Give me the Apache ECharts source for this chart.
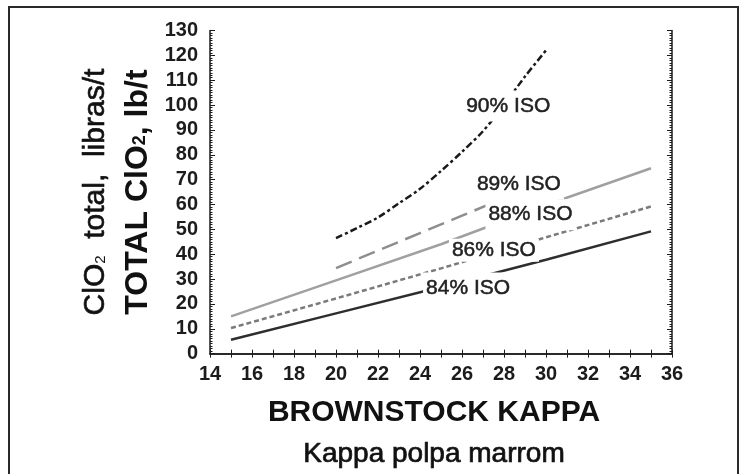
<!DOCTYPE html>
<html>
<head>
<meta charset="utf-8">
<script src="https://cdn.jsdelivr.net/npm/echarts@6/dist/echarts.min.js"></script>
<style>
  html, body { margin: 0; padding: 0; background: #fff; }
  #chart { width: 748px; height: 474px; }
</style>
</head>
<body>
<div id="chart"></div>
<script>
// Brownstock kappa (x) against total ClO2 demand, lb/t (y), one curve per target brightness
const kappaFull = [15, 20, 25, 30, 35];
const clo2_84 = [5.6, 16.2, 26.8, 37.8, 49.2];
const clo2_86 = [10.3, 22.2, 34.3, 46.8, 59.2];
const clo2_88 = [15.0, 29.5, 44.0, 59.8, 74.6];

const kappa89 = [20, 22, 24, 26, 27.7];
const clo2_89 = [34.4, 41.5, 48.5, 55.5, 61.5];

const kappa90 = [20, 21, 22, 23, 24, 25, 26, 27, 28, 29, 30];
const clo2_90 = [46.5, 50.5, 54.8, 60.5, 66.3, 73.5, 81.2, 89.5, 100, 111.5, 122];

const curveNames = ['84% ISO', '86% ISO', '88% ISO', '89% ISO', '90% ISO'];
// where each curve's name is written (kappa, lb/t)
const tagKappa = [26.29, 27.52, 29.26, 28.71, 28.2];
const tagClo2 = [26.4, 41.6, 55.9, 68.2, 99.6];

const xTicks = { min: 14, max: 36, step: 2 };
const yTicks = { min: 0, max: 130, step: 10 };

const pairs = (xs, ys) => xs.map((x, i) => [x, ys[i]]);

const FONT = '"Liberation Sans", Arial, sans-serif';
const INK = '#1c1c1c';

function lineSeries(name, data, color, type, width, smooth) {
  return {
    name, type: 'line', data, smooth: smooth || false,
    showSymbol: false, symbol: 'none', silent: true, z: 2,
    lineStyle: { color, width, type, cap: 'butt' }
  };
}

const axisCommon = {
  type: 'value',
  axisLine: { show: true, lineStyle: { color: INK, width: 1.5 } },
  axisTick: { show: true, inside: true, length: 4, lineStyle: { color: INK, width: 1 } },
  minorTick: { show: true, length: 3, lineStyle: { color: INK, width: 1 } },
  splitLine: { show: false },
  minorSplitLine: { show: false }
};

const tickFont = { fontSize: 20, fontWeight: 'bold', color: INK, fontFamily: FONT };

const chart = echarts.init(document.getElementById('chart'), null, { renderer: 'canvas' });

chart.setOption({
  animation: false,
  backgroundColor: '#fff',
  textStyle: { fontFamily: FONT },
  grid: { left: 210, right: 76, top: 30.5, bottom: 120, containLabel: false },
  xAxis: [
    Object.assign({}, axisCommon, {
      position: 'bottom',
      min: xTicks.min, max: xTicks.max, interval: xTicks.step,
      minorTick: Object.assign({}, axisCommon.minorTick, { splitNumber: 2, length: 4 }),
      axisLabel: Object.assign({ margin: 11 }, tickFont),
      name: '{b|BROWNSTOCK KAPPA}\n{r|Kappa polpa marrom}',
      nameLocation: 'middle',
      nameGap: 38,
      nameTextStyle: {
        padding: [0, 14, 0, 0],
        rich: {
          b: { fontSize: 30, fontWeight: 'bold', color: '#111', lineHeight: 42, fontFamily: FONT },
          r: { fontSize: 28, color: '#111', lineHeight: 42, fontFamily: FONT,
               textBorderColor: '#111', textBorderWidth: 0.7 }
        }
      }
    }),
    Object.assign({}, axisCommon, {
      position: 'top',
      min: xTicks.min, max: xTicks.max, interval: xTicks.step,
      minorTick: Object.assign({}, axisCommon.minorTick, { splitNumber: 2, length: 4 }),
      axisLabel: { show: false }
    })
  ],
  yAxis: [
    Object.assign({}, axisCommon, {
      position: 'left',
      min: yTicks.min, max: yTicks.max, interval: yTicks.step,
      minorTick: Object.assign({}, axisCommon.minorTick, { splitNumber: 10, length: 2.5 }),
      axisTick: Object.assign({}, axisCommon.axisTick, { length: 5 }),
      axisLabel: Object.assign({ margin: 12 }, tickFont),
      name: '{r|ClO}{rs|2}{r|  total,  libras/t}\n{b|TOTAL ClO}{bs|2}{b|, lb/t}',
      nameLocation: 'middle',
      nameRotate: 90,
      nameGap: 25,
      nameTextStyle: {
        rich: {
          r: { fontSize: 30, color: '#111', lineHeight: 43, verticalAlign: 'bottom', fontFamily: FONT,
               textBorderColor: '#111', textBorderWidth: 0.6 },
          rs: { fontSize: 15, color: '#111', lineHeight: 15, verticalAlign: 'bottom', padding: [0, 0, 2, 0], fontFamily: FONT },
          b: { fontSize: 32, fontWeight: 'bold', color: '#111', lineHeight: 43, verticalAlign: 'bottom', fontFamily: FONT },
          bs: { fontSize: 18, fontWeight: 'bold', color: '#111', lineHeight: 18, verticalAlign: 'bottom', padding: [0, 0, 5, 0], fontFamily: FONT }
        }
      }
    }),
    Object.assign({}, axisCommon, {
      position: 'right',
      min: yTicks.min, max: yTicks.max, interval: yTicks.step,
      minorTick: Object.assign({}, axisCommon.minorTick, { splitNumber: 10, length: 2.5 }),
      axisTick: Object.assign({}, axisCommon.axisTick, { length: 5 }),
      axisLabel: { show: false }
    })
  ],
  series: [
    lineSeries('84% ISO', pairs(kappaFull, clo2_84), '#2e2e2e', 'solid', 2.5),
    lineSeries('86% ISO', pairs(kappaFull, clo2_86), '#7a7a7a', [5, 3], 2.5),
    lineSeries('88% ISO', pairs(kappaFull, clo2_88), '#a0a0a0', 'solid', 2.5),
    lineSeries('89% ISO', pairs(kappa89, clo2_89), '#8e8e8e', [17, 8], 2.5),
    lineSeries('90% ISO', pairs(kappa90, clo2_90), '#1a1a1a', [7, 3, 3, 3], 2.5, 0.3),
    {
      name: 'tags',
      type: 'scatter',
      silent: true,
      symbolSize: 0,
      z: 5,
      itemStyle: { opacity: 1 },
      data: curveNames.map((t, i) => ({
        value: [tagKappa[i], tagClo2[i]],
        name: t,
        label: { padding: i === 1 ? [1, 3] : [5, 3] }
      })),
      label: {
        show: true,
        position: 'inside',
        formatter: p => p.name,
        fontSize: 21,
        color: '#222',
        textBorderColor: '#222',
        textBorderWidth: 0.5,
        fontFamily: FONT,
        backgroundColor: '#ffffff'
      }
    }
  ],
  graphic: [
    {
      type: 'rect',
      silent: true,
      z: 10,
      shape: { x: 9, y: 7, width: 729, height: 500 },
      style: { fill: 'none', stroke: '#2a2a2a', lineWidth: 2 }
    }
  ]
});
</script>
</body>
</html>
